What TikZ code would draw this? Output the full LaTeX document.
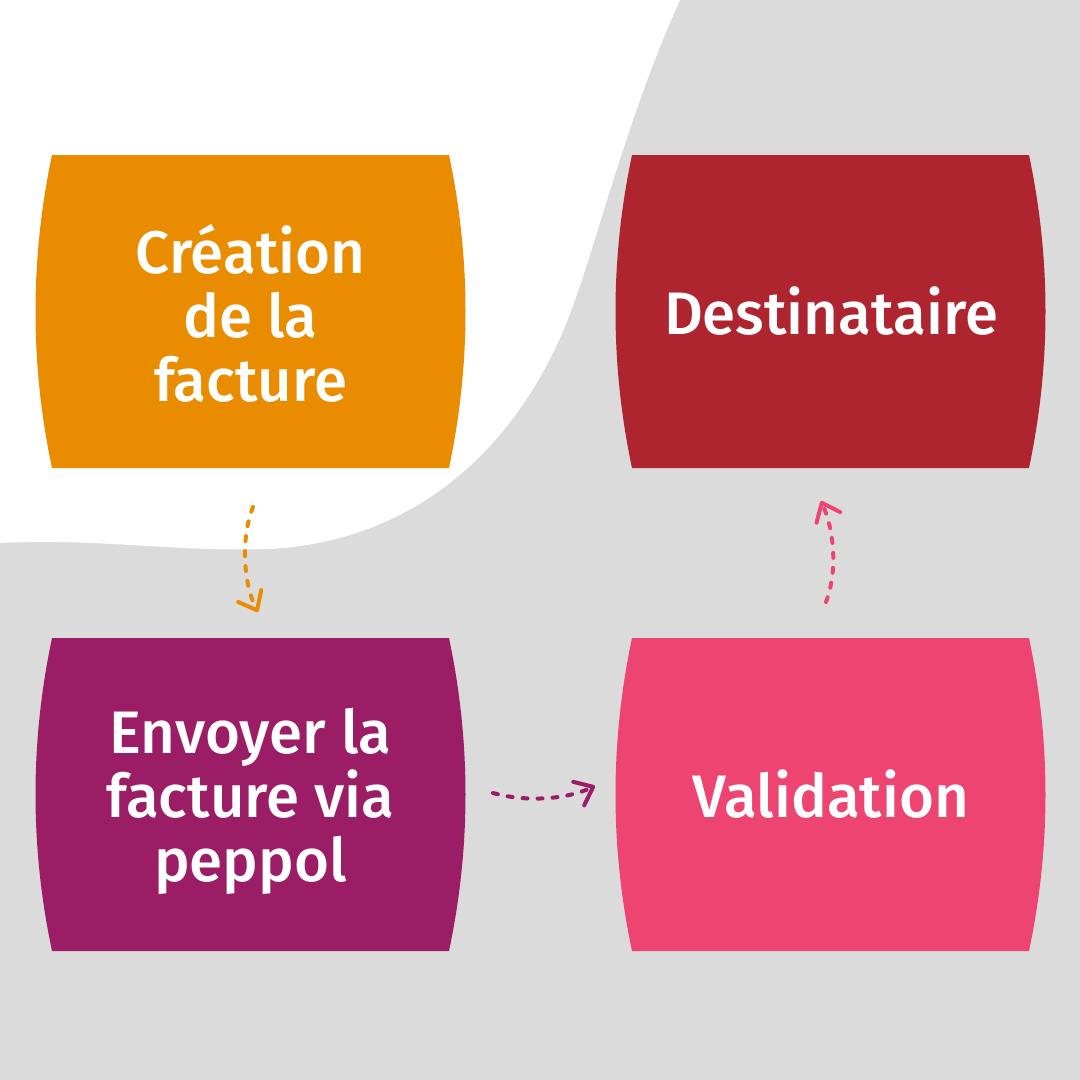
\documentclass[tikz,border=0pt]{standalone}
\usepackage{fontspec}
\setmainfont{Fira Sans Medium}
\usetikzlibrary{arrows.meta}
\definecolor{bggray}{HTML}{DBDBDB}
\definecolor{corange}{HTML}{EA8C00}
\definecolor{cdred}{HTML}{AE2530}
\definecolor{cpurple}{HTML}{9B1D65}
\definecolor{cpink}{HTML}{EE4472}
\tikzset{
  boxtext/.style={text=white, align=center, font=\fontsize{60}{64}\selectfont},
  flowarrow/.style={line width=4pt, line cap=round, dash pattern=on 5pt off 10pt,
    -{Straight Barb[length=16pt,width=26pt,line width=4pt,round]}},
}
\newcommand{\barrel}[3]{% #1 color, #2 left x, #3 top y
  \fill[#1] (#2,#3) -- ++(397,0)
    .. controls ++(22,104) and ++(22,-104) .. ++(0,313)
    -- ++(-397,0)
    .. controls ++(-22,-104) and ++(-22,104) .. ++(0,-313) -- cycle;}
\begin{document}
\begin{tikzpicture}[x=1pt,y=-1pt]
\useasboundingbox (0,0) rectangle (1080,1080);
\fill[bggray] (0,0) rectangle (1080,1080);
\fill[white] (0,0) -- (680,0) .. controls (630,110) and (600,230) .. (575,300)
  .. controls (530,430) and (430,540) .. (270,549)
  .. controls (170,552) and (100,538) .. (0,543) -- cycle;
\barrel{corange}{52}{155}
\barrel{cdred}{632}{155}
\barrel{cpurple}{52}{638}
\barrel{cpink}{632}{638}
\node[boxtext] (creation) at (250.5,313.5) {Création\\de la\\facture};
\node[boxtext] (dest) at (831,311.5) {Destinataire};
\node[boxtext] (envoyer) at (250.5,801.5) {Envoyer la\\facture via\\peppol};
\node[boxtext] (valid) at (831,794.5) {Validation};
\coordinate (a1s) at (253,507);
\coordinate (a1e) at (258,612);
\coordinate (a2s) at (493,793);
\coordinate (a2e) at (595,786);
\coordinate (a3s) at (826,602);
\coordinate (a3e) at (821,501);
\draw[flowarrow, corange] (a1s) .. controls (240,540) and (244,585) .. (a1e);
\draw[flowarrow, cpurple] (a2s) .. controls (525,802) and (565,800) .. (a2e);
\draw[flowarrow, cpink] (a3s) .. controls (838,570) and (834,530) .. (a3e);
\end{tikzpicture}
\end{document}
